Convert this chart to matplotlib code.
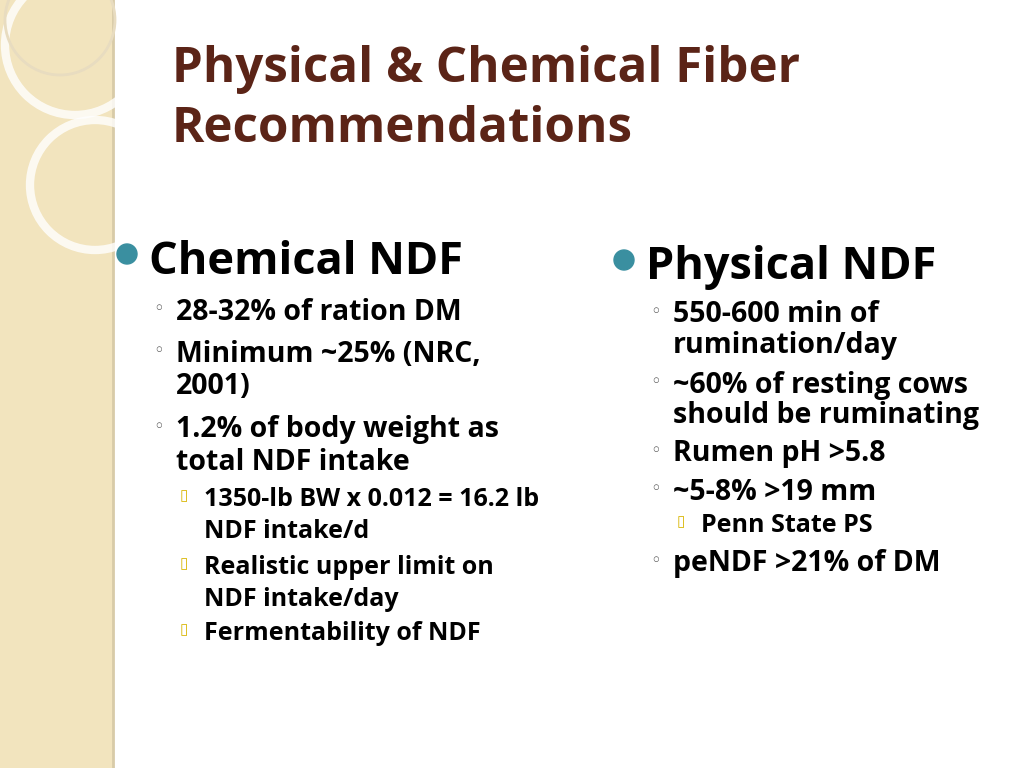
import matplotlib
matplotlib.use("Agg")
import matplotlib.pyplot as plt
from matplotlib.patches import Rectangle, Circle

title_lines = ["Physical & Chemical Fiber", "Recommendations"]
left_head = "Chemical NDF"
left_items = [
    (2, "28-32% of ration DM", 312),
    (2, "Minimum ~25% (NRC,", 354), (0, "2001)", 387),
    (2, "1.2% of body weight as", 430), (0, "total NDF intake", 463),
    (3, "1350-lb BW x 0.012 = 16.2 lb", 500), (4, "NDF intake/d", 532),
    (3, "Realistic upper limit on", 568), (4, "NDF intake/day", 599),
    (3, "Fermentability of NDF", 634),
]
right_head = "Physical NDF"
right_items = [
    (2, "550-600 min of", 315), (0, "rumination/day", 346),
    (2, "~60% of resting cows", 385), (0, "should be ruminating", 415),
    (2, "Rumen pH >5.8", 454),
    (2, "~5-8% >19 mm", 492),
    (3, "Penn State PS", 526),
    (2, "peNDF >21% of DM", 564),
]

W, H = 1024, 768
fig = plt.figure(figsize=(W/100, H/100), dpi=100)
ax = fig.add_axes([0, 0, 1, 1])
ax.set_xlim(0, W); ax.set_ylim(H, 0); ax.axis("off")
ax.add_patch(Rectangle((0, 0), W, H, color="white", zorder=0))
ax.add_patch(Rectangle((0, 0), 112, H, color="#F2E4BE", zorder=1))
ax.plot([113, 113], [0, H], color="#D8CBA8", lw=2, zorder=2)
for (cx, cy, r) in [(75, 45, 70), (95, 185, 65)]:
    ax.add_patch(Circle((cx, cy), r, fill=False, ec="white", lw=6, alpha=0.8, zorder=2))
ax.add_patch(Circle((60, 20), 55, fill=False, ec="#E8DCC0", lw=2, zorder=2))

font = "Open Sans"
brown = "#5B2417"
ax.text(172, 70, title_lines[0], fontsize=35.5, fontweight="bold", color=brown, family=font, va="center")
ax.text(172, 129, title_lines[1], fontsize=35.5, fontweight="bold", color=brown, family=font, va="center")

def column(x0, head, hy, items):
    ax.add_patch(Circle((x0 + 10, hy - 8), 10, color="#3A8FA0", zorder=3))
    ax.text(x0 + 32, hy, head, fontsize=32.5, fontweight="bold", color="black", family=font, va="center")
    for lvl, txt, y in items:
        if lvl in (3, 4):
            tx, fs = x0 + 87, 18
        else:
            tx, fs = x0 + 59, 20.5
        if lvl == 3:
            ax.text(x0 + 63, y - 4, "\u25af", fontsize=11, color="#D8B500", family="DejaVu Sans", va="center")
        if lvl == 2:
            ax.text(x0 + 36, y - 3, "\u25e6", fontsize=13, color="#555555", family="DejaVu Sans", va="center")
        ax.text(tx, y, txt, fontsize=fs, fontweight="bold", color="black", family=font, va="center")

column(117, left_head, 262, left_items)
column(614, right_head, 268, right_items)
fig.savefig("out.png", dpi=100)
